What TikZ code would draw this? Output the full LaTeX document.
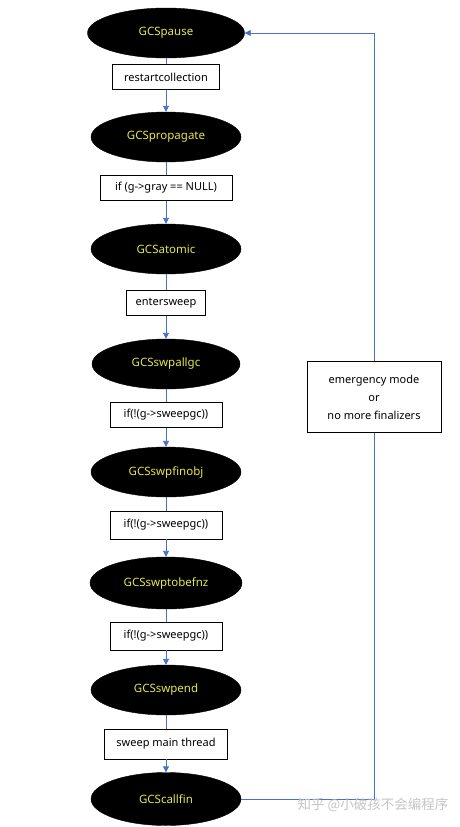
\documentclass[tikz,border=0pt]{standalone}
\usepackage{fontspec}
\setmainfont{Noto Sans}
\newfontfamily\cjk{Noto Sans CJK SC}
\usetikzlibrary{shapes.geometric,arrows.meta}
\definecolor{lineblue}{HTML}{4472C4}
\definecolor{txtyellow}{HTML}{E6E64A}
\begin{document}
\begin{tikzpicture}[x=1pt,y=-1pt,
  state/.style={ellipse, fill=black, draw=black, text=txtyellow, minimum width=150pt, minimum height=50pt, inner sep=0pt, font=\fontsize{11.5}{13}\selectfont},
  cond/.style={rectangle, draw=black, line width=0.8pt, fill=white, minimum height=25pt, inner sep=0pt, font=\fontsize{11}{13}\selectfont},
  flow/.style={draw=lineblue, line width=0.9pt},
  arr/.style={flow, -{Triangle[width=6pt,length=6pt]}},
  wm/.style={text=gray!45, font=\cjk\fontsize{13.5}{15}\selectfont}]
\path[use as bounding box, fill=white] (0,0) rectangle (460,827);
\node[state, minimum width=157pt] (pause) at (166,33) {GCSpause};
\node[cond, minimum width=107pt] (c1) at (166,77) {restartcollection};
\node[state] (prop) at (166,137) {GCSpropagate};
\node[cond, minimum width=132pt] (c2) at (166,188) {if (g->gray == NULL)};
\node[state] (atomic) at (166,249) {GCSatomic};
\node[cond, minimum width=79pt] (c3) at (166,303) {entersweep};
\node[state, minimum width=148pt] (allgc) at (166,364) {GCSswpallgc};
\node[cond, minimum width=112pt] (c4) at (166,415) {if(!(g->sweepgc))};
\node[state] (finobj) at (166,472) {GCSswpfinobj};
\node[cond, minimum width=112pt, minimum height=28pt] (c5) at (166,525) {if(!(g->sweepgc))};
\node[state, minimum width=152pt, minimum height=52pt] (tobefnz) at (166,583) {GCSswptobefnz};
\node[cond, minimum width=112pt, minimum height=28pt] (c6) at (166,636) {if(!(g->sweepgc))};
\node[state] (swpend) at (166,690) {GCSswpend};
\node[cond, minimum width=123pt, minimum height=30pt] (c7) at (166,744) {sweep main thread};
\node[state, minimum width=150pt, minimum height=53pt] (callfin) at (166,799) {GCScallfin};
\node[cond, minimum width=134pt, minimum height=71pt, align=center, font=\fontsize{11}{18}\selectfont] (emg) at (374,397) {emergency mode\\or\\no more finalizers};
\draw[flow] (pause) -- (c1);
\draw[arr] (c1) -- (prop);
\draw[flow] (prop) -- (c2);
\draw[arr] (c2) -- (atomic);
\draw[flow] (atomic) -- (c3);
\draw[arr] (c3) -- (allgc);
\draw[flow] (allgc) -- (c4);
\draw[arr] (c4) -- (finobj);
\draw[flow] (finobj) -- (c5);
\draw[arr] (c5) -- (tobefnz);
\draw[flow] (tobefnz) -- (c6);
\draw[arr] (c6) -- (swpend);
\draw[flow] (swpend) -- (c7);
\draw[arr] (c7) -- (callfin);
\draw[flow] (callfin) -- (callfin -| emg) -- (emg);
\draw[arr] (emg) -- (emg |- pause) -- (pause);
\node[wm] (wmark) at (373,805) {知乎 @小破孩不会编程序};
\end{tikzpicture}
\end{document}
